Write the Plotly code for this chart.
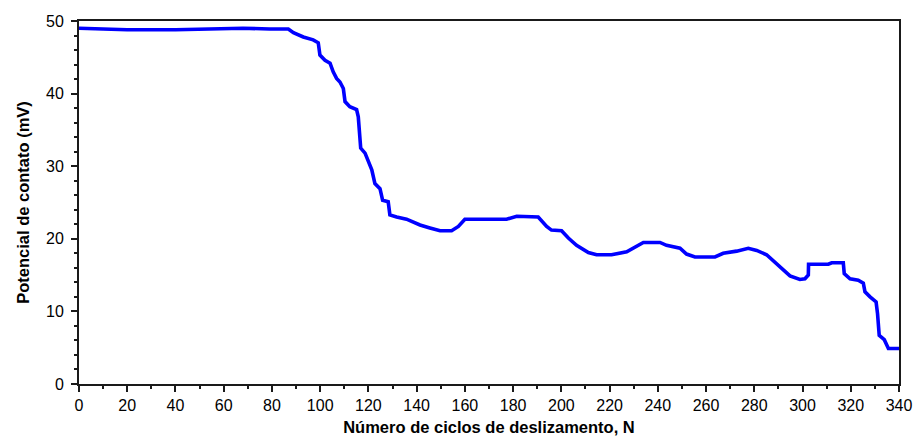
import plotly.graph_objects as go

ciclos = [0, 8, 20, 40, 55, 62, 68, 79, 86.8, 88.9, 93, 97.1, 99.2, 99.9, 102, 104.1, 105.4,
          106.8, 108.2, 109.6, 110.3, 112.3, 115.1, 115.8, 116.5, 116.8, 118.6, 120, 121.4,
          122.7, 124.8, 125.9, 128.2, 128.9, 131.7, 135.8, 141.4, 145.5, 149.7, 154.5, 157.3,
          160, 170.4, 177.3, 181.5, 190.4, 193.9, 195.9, 200.1, 202.9, 206.3, 211.2, 214.6,
          220.8, 227.1, 231.2, 234, 240.9, 243.6, 249.2, 251.9, 255.4, 263.7, 267.1, 272.7,
          277.5, 281, 285.1, 289.2, 292.7, 294.8, 298.9, 301, 302.4, 302.5, 310.7, 312.1,
          316.9, 317.3, 319.7, 323.1, 325.2, 325.9, 328, 330.5, 331.1, 331.8, 333.9, 335.6, 340]
potencial = [49.0, 48.9, 48.8, 48.8, 48.9, 49.0, 49.0, 48.9, 48.9, 48.4, 47.8, 47.4, 47.0, 45.3,
             44.6, 44.2, 43.0, 42.1, 41.6, 40.7, 38.9, 38.2, 37.8, 36.8, 34.5, 32.5, 31.8, 30.6,
             29.5, 27.6, 26.9, 25.3, 25.1, 23.3, 23.0, 22.7, 21.9, 21.5, 21.1, 21.1, 21.7, 22.7,
             22.7, 22.7, 23.1, 23.0, 21.7, 21.2, 21.1, 20.1, 19.1, 18.1, 17.8, 17.8, 18.2, 18.9,
             19.5, 19.5, 19.1, 18.7, 17.9, 17.5, 17.5, 18.0, 18.3, 18.7, 18.4, 17.8, 16.6, 15.5,
             14.9, 14.4, 14.5, 15.0, 16.5, 16.5, 16.7, 16.7, 15.2, 14.5, 14.3, 13.9, 12.7, 12.0,
             11.3, 9.7, 6.7, 6.1, 4.9, 4.9]

x_ticks = list(range(0, 341, 20))
y_ticks = list(range(0, 51, 10))

FONT = "Liberation Sans, Arial"

fig = go.Figure()
fig.add_trace(go.Scatter(x=ciclos, y=potencial, mode="lines",
                         line=dict(color="#0000FF", width=3.6), showlegend=False))

axis_common = dict(showgrid=False, zeroline=False, showline=True, linecolor="#1a1a1a",
                   linewidth=2, mirror=True, ticks="outside", tickcolor="#1a1a1a",
                   tickwidth=1.5, ticklen=6, automargin=False,
                   tickfont=dict(family=FONT, size=16, color="black"))

fig.update_layout(
    width=916, height=439,
    margin=dict(l=79, r=17, t=21, b=55),
    paper_bgcolor="white", plot_bgcolor="white",
    xaxis=dict(range=[0, 340], tickvals=x_ticks, ticktext=[str(v) for v in x_ticks],
               minor=dict(dtick=10, ticks="outside", ticklen=3, tickcolor="#1a1a1a"),
               title=dict(text="<b>Número de ciclos de deslizamento, N</b>", standoff=8,
                          font=dict(family=FONT, size=16.5, color="black")),
               **axis_common),
    yaxis=dict(range=[0, 50], tickvals=y_ticks, ticktext=[str(v) for v in y_ticks],
               ticklabelstandoff=4,
               minor=dict(dtick=2, ticks="outside", ticklen=3, tickcolor="#1a1a1a"),
               title=dict(text="<b>Potencial de contato (mV)</b>", standoff=12,
                          font=dict(family=FONT, size=16.5, color="black")),
               **axis_common),
)

fig.write_html("out.html")
